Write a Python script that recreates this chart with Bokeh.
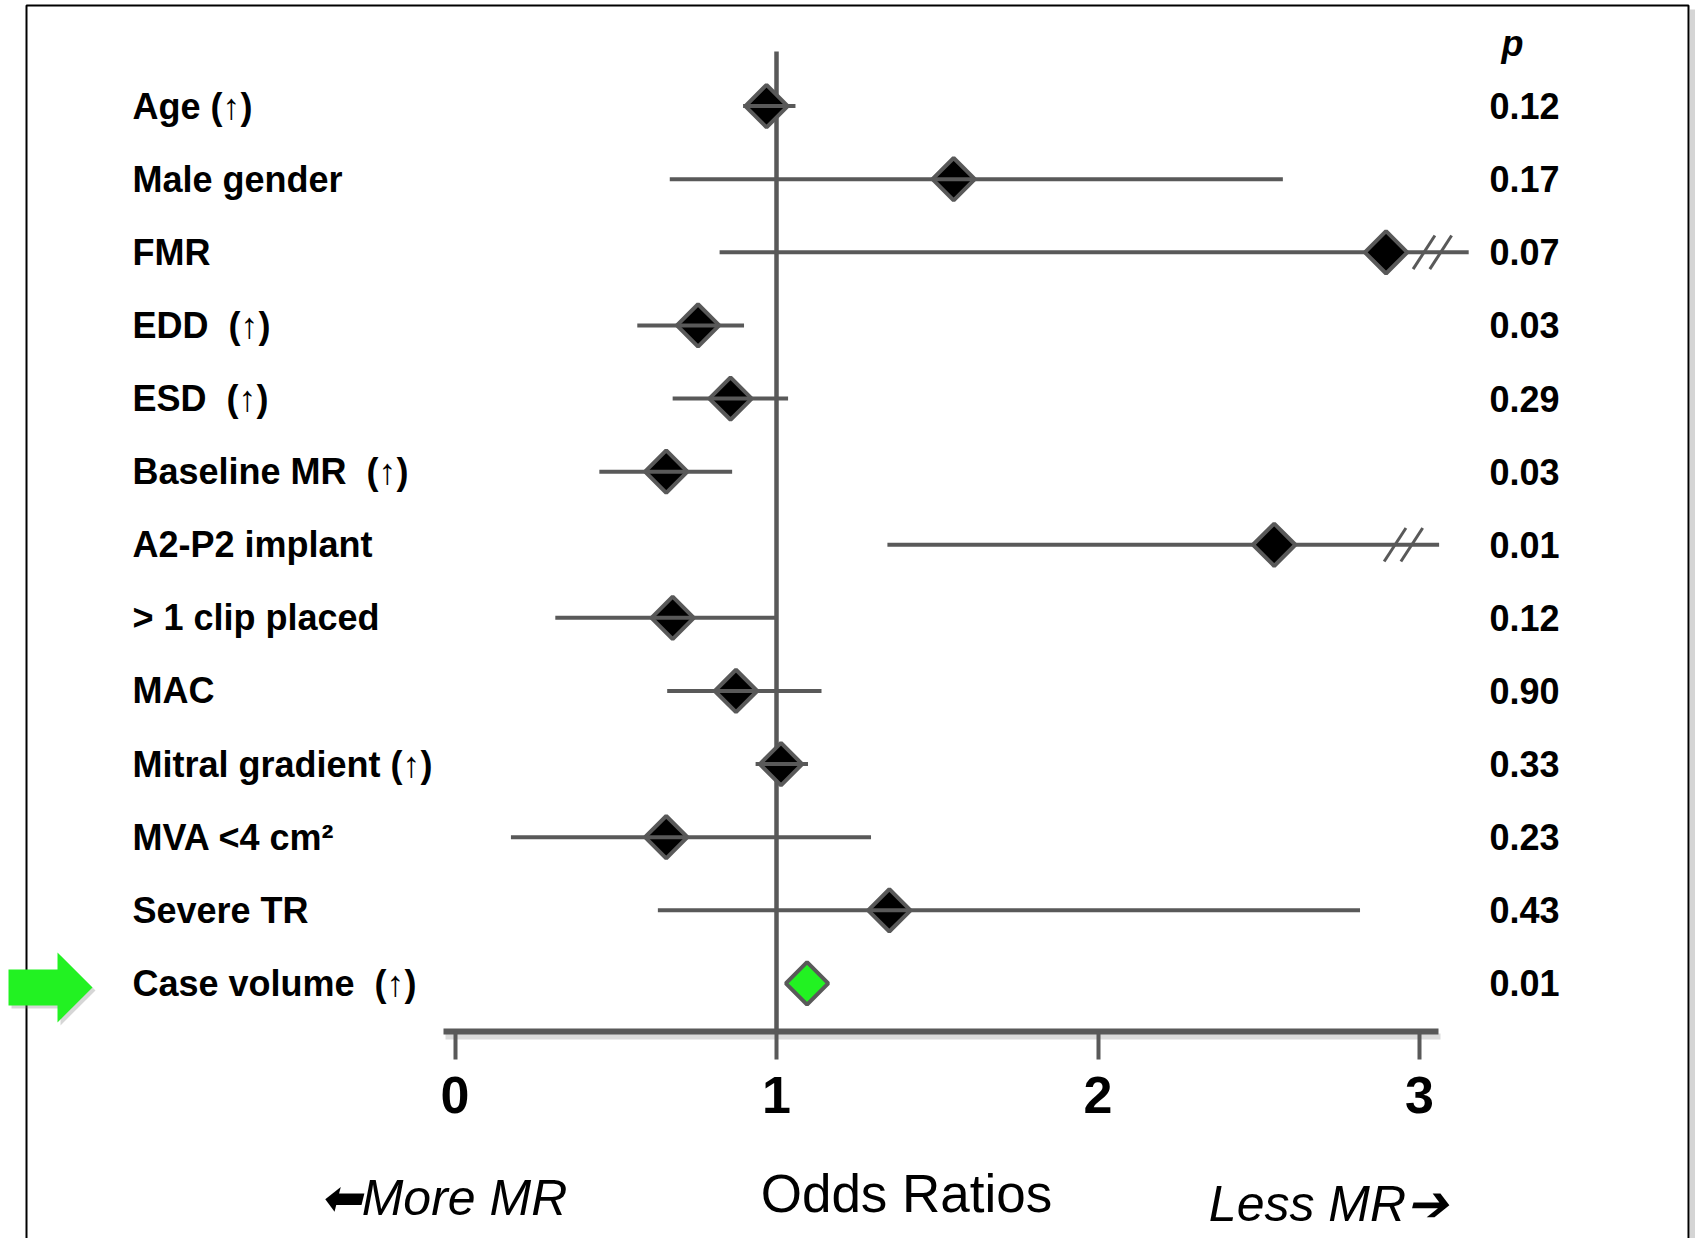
import numpy as np
from bokeh.plotting import figure
from bokeh.models import Range1d, FixedTicker
from bokeh.core.properties import value
from bokeh.embed import file_html
from bokeh.resources import INLINE

nan = float("nan")

# ---------------- data ----------------
variables = ["Age (↑)", "Male gender", "FMR", "EDD\u00a0 (↑)", "ESD\u00a0 (↑)",
             "Baseline MR\u00a0 (↑)", "A2-P2 implant", "> 1 clip placed", "MAC",
             "Mitral gradient (↑)", "MVA <4 cm²", "Severe TR", "Case volume\u00a0 (↑)"]
odds_ratio = [0.969, 1.551, 2.896, 0.756, 0.857, 0.657, 2.548, 0.677, 0.874, 1.014, 0.657, 1.351, 1.095]
ci_low = [0.896, 0.668, 0.823, 0.567, 0.677, 0.449, 1.345, 0.312, 0.660, 0.935, 0.174, 0.631, nan]
ci_high = [1.059, 2.575, 3.153, 0.899, 1.036, 0.862, 3.061, 1.003, 1.140, 1.098, 1.294, 2.815, nan]
ci_break = [nan, nan, 3.04, nan, nan, nan, 2.95, nan, nan, nan, nan, nan, nan]
p_values = ["0.12", "0.17", "0.07", "0.03", "0.29", "0.03", "0.01", "0.12", "0.90",
            "0.33", "0.23", "0.43", "0.01"]
highlighted = ["Case volume\u00a0 (↑)"]
x_ticks = [0, 1, 2, 3]
x_title = "Odds Ratios"
left_note = "⬅More MR"
right_note = "Less MR➔"

# ---------------- layout ----------------
W, H = 1700, 1238
X0_PX, X_UNIT = 454.5, 321.5     # pixel of OR=0, pixels per OR unit
Y0_PX, Y_UNIT = 105.6, 73.11     # pixel of first row, pixels per row


def px_x(px):
    return (px - X0_PX) / X_UNIT


def px_y(py):
    return (py - Y0_PX) / Y_UNIT


GREY = "#595959"
GREEN = "#22f222"

rows = list(range(len(variables)))
p = figure(width=W, height=H, output_backend="svg", toolbar_location=None,
           x_range=Range1d(px_x(0), px_x(W)), y_range=Range1d(px_y(H), px_y(0)),
           y_axis_location=None, min_border=0, background_fill_color="white",
           border_fill_color="white", outline_line_color=None)
p.grid.visible = False

axis_y = px_y(1031)

# frame of the slide picture
p.line(x=[px_x(26), px_x(26), px_x(1688), px_x(1688)],
       y=[px_y(1260), px_y(5), px_y(5), px_y(1260)], line_color="black", line_width=2)
p.line(x=[px_x(1692), px_x(1692)], y=[px_y(9), px_y(1260)], line_color="#888888",
       line_width=5, line_alpha=0.35)

# soft shadow under the axis
p.segment(x0=[px_x(445)], x1=[px_x(1440)], y0=[px_y(1036)], y1=[px_y(1036)],
          line_color="#999999", line_width=6, line_alpha=0.35)

# reference line at OR = 1
p.segment(x0=[1], x1=[1], y0=[px_y(51)], y1=[axis_y], line_color=GREY, line_width=4.5)

# confidence intervals
lo = np.array(ci_low)
hi = np.array(ci_high)
brk = np.array(ci_break)
has_ci = ~np.isnan(lo)
trunc = ~np.isnan(brk)
r = np.array(rows, dtype=float)
under = has_ci & trunc
over = has_ci & ~trunc
p.segment(x0=lo[under], x1=hi[under], y0=r[under], y1=r[under], line_color=GREY, line_width=4)

colors = [GREEN if v in highlighted else "black" for v in variables]
p.scatter(x=odds_ratio, y=rows, marker="square", angle=np.pi / 4, size=30,
          fill_color=colors, line_color=GREY, line_width=4)
p.segment(x0=lo[over], x1=hi[over], y0=r[over], y1=r[over], line_color=GREY, line_width=4)

# axis break marks
bx = np.concatenate([brk[trunc] - 0.026, brk[trunc] + 0.026])
by = np.concatenate([r[trunc], r[trunc]])
p.scatter(x=bx, y=by, marker="dash", angle=np.radians(57), size=40,
          line_color=GREY, line_width=3)

# row labels and p-values
p.text(x=px_x(132), y=rows, text=variables, text_font=value("Liberation Sans"),
       text_font_style="bold", text_font_size="36px", text_baseline="middle",
       text_align="left", text_color="black")
p.text(x=px_x(1489), y=rows, text=p_values, text_font=value("Liberation Sans"),
       text_font_style="bold", text_font_size="36px", text_baseline="middle",
       text_align="left", text_color="black")
p.text(x=[px_x(1512)], y=[px_y(43)], text=["p"], text_font=value("Liberation Sans"),
       text_font_style="bold italic", text_font_size="36px", text_baseline="middle",
       text_align="center", text_color="black")

# green pointer arrow on highlighted row
hi_row = variables.index(highlighted[0])
cy = Y0_PX + Y_UNIT * hi_row + 4
ax_px = [8, 57, 57, 92, 57, 57, 8]
ay_px = [-18, -18, -35, 0, 35, 18, 18]
p.patch(x=[px_x(a + 3) for a in ax_px], y=[px_y(cy + b + 3) for b in ay_px],
        fill_color="#777777", fill_alpha=0.3, line_color=None)
p.patch(x=[px_x(a) for a in ax_px], y=[px_y(cy + b) for b in ay_px],
        fill_color=GREEN, line_color=None)

# x axis drawn inside the picture at a fixed location
ax = p.xaxis[0]
ax.fixed_location = axis_y
ax.bounds = (px_x(443), px_x(1438))
ax.ticker = FixedTicker(ticks=x_ticks)
ax.axis_line_color = GREY
ax.axis_line_width = 6
ax.major_tick_line_color = GREY
ax.major_tick_line_width = 4
ax.major_tick_out = 28
ax.major_tick_in = 0
ax.minor_tick_line_color = None
ax.major_label_text_font = "Liberation Sans"
ax.major_label_text_font_style = "bold"
ax.major_label_text_font_size = "52px"
ax.major_label_text_color = "black"
ax.major_label_standoff = 17

# axis title and direction notes under the axis
p.text(x=[px_x(906)], y=[px_y(1193)], text=[x_title], text_font=value("Liberation Sans"),
       text_font_style="normal", text_font_size="53px", text_baseline="middle",
       text_align="center", text_color="black")
p.text(x=[px_x(443), px_x(1328)], y=[px_y(1197), px_y(1203)], text=[left_note, right_note],
       text_font=value("Liberation Sans"), text_font_style="italic", text_font_size="50px",
       text_baseline="middle", text_align="center", text_color="black")

open("out.html", "w").write(file_html(p, INLINE))
